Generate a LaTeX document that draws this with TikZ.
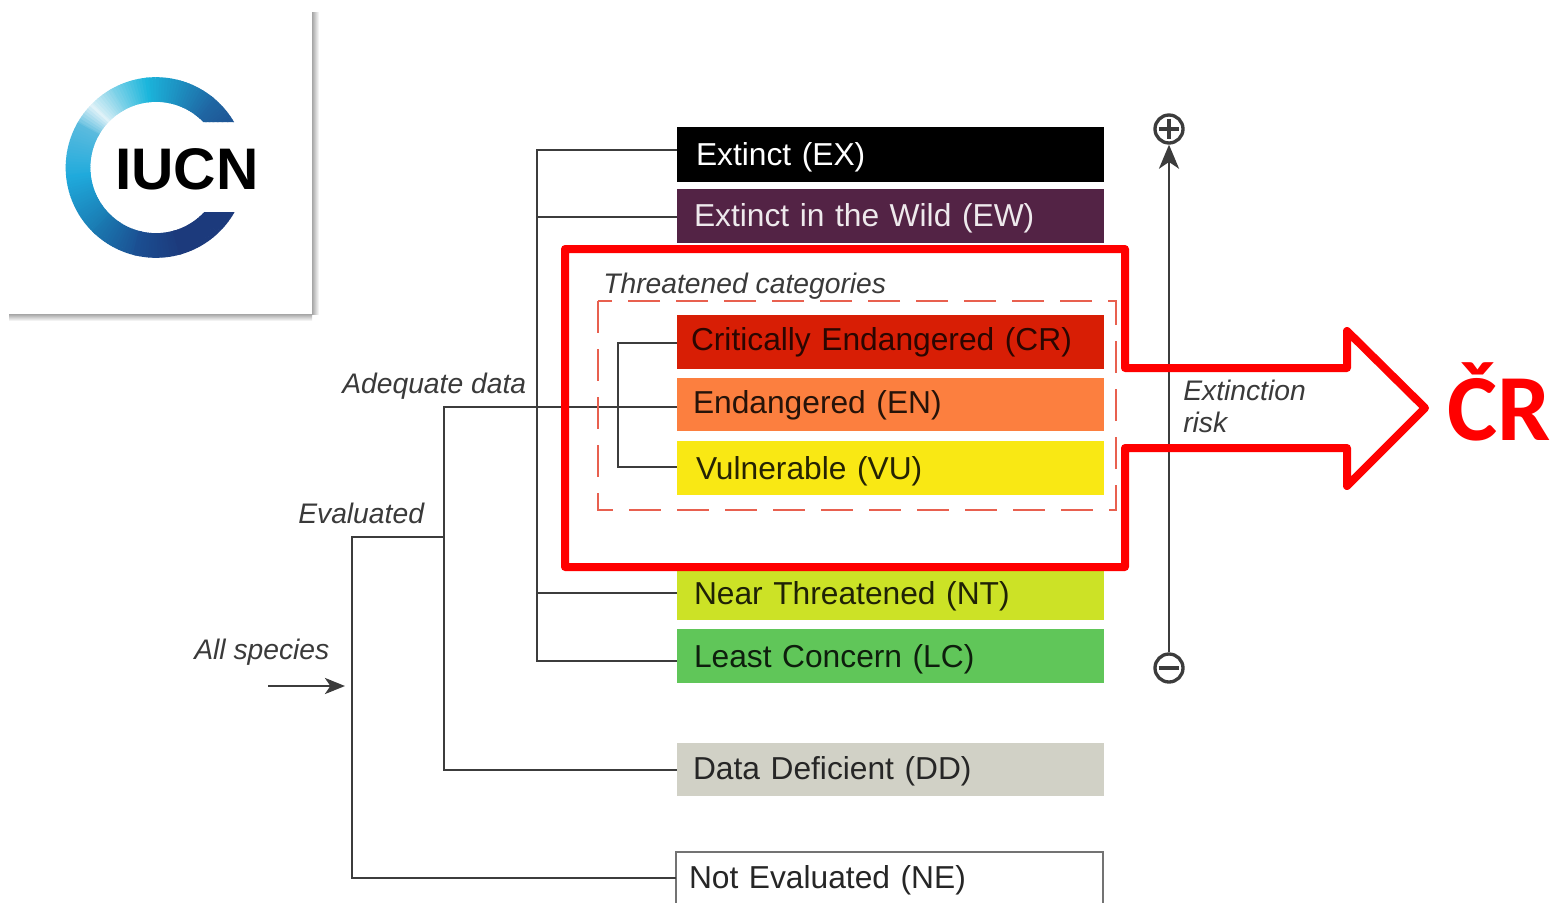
\documentclass[tikz,border=0pt]{standalone}
\usepackage{fontspec}
\setmainfont{Liberation Sans}
\newfontfamily\carlitofont{Carlito}
\usetikzlibrary{arrows.meta,calc}
\definecolor{cEX}{HTML}{000000}
\definecolor{cEW}{HTML}{532345}
\definecolor{cCR}{HTML}{D81E05}
\definecolor{cEN}{HTML}{FC7F3F}
\definecolor{cVU}{HTML}{F9E814}
\definecolor{cNT}{HTML}{CCE226}
\definecolor{cLC}{HTML}{60C659}
\definecolor{cDD}{HTML}{D1D1C6}
\definecolor{linegrey}{HTML}{3C3C3C}
\definecolor{itgrey}{HTML}{3A3A3A}
\definecolor{dashred}{HTML}{E8604F}
\definecolor{alarm}{HTML}{FF0000}
\definecolor{rA}{HTML}{1E4C8E}
\definecolor{rB}{HTML}{1F6AA6}
\definecolor{rC}{HTML}{1BB6DC}
\definecolor{rD}{HTML}{8DD6EA}
\definecolor{rE}{HTML}{DFF2F8}
\definecolor{rF}{HTML}{5ABBDE}
\definecolor{rG}{HTML}{1FAADC}
\definecolor{rH}{HTML}{1A78B0}
\definecolor{rI}{HTML}{1B4F92}
\definecolor{rJ}{HTML}{1C3A7C}
\newcommand{\catbox}[8]{%
  % name, top, height, fill, pad, text colour, extra, label
  \node[catnode,fill=#4,text=#6,minimum height=#3*0.75pt,inner xsep=#5*0.75pt,#7] (#1) at (677,#2) {#8};}
\tikzset{
  catnode/.style={anchor=north west,outer sep=0pt,inner ysep=0pt,text width=(427-2*#1)*0.75pt,text depth=5pt,font=\fontsize{23.8pt}{26pt}\selectfont,align=left},
  catnode/.default=9,
  wire/.style={draw=linegrey,line width=2.1pt},
  itlabel/.style={anchor=base west,inner sep=0pt,text=itgrey,font=\fontsize{21.2pt}{24pt}\selectfont\itshape},
  signnode/.style={circle,draw=linegrey,line width=2.5pt,minimum size=21pt,inner sep=0pt},
  signstroke/.style={draw=linegrey,line width=2.6pt},
  alarmline/.style={draw=alarm,line width=6pt,line join=round}
}
\begin{document}
\begin{tikzpicture}[x=0.75pt,y=-0.75pt]
\useasboundingbox (0,0) rectangle (1550,903);
% card shadow
\shade[left color=black!35,right color=white] (312,12) rectangle (319,314);
\shade[top color=black!35,bottom color=white] (9,314) rectangle (312,321);
% ring
\begin{scope}
\clip (60,70) -- (240,70) -- (240,122) -- (160,122) -- (160,212) -- (240,212) -- (240,265) -- (60,265) -- cycle;
\foreach \s/\e/\A/\B in {20/50/rA/rB,50/95/rB/rC,95/120/rC/rD,120/135/rD/rE,135/150/rE/rF,150/185/rF/rG,185/225/rG/rH,225/255/rH/rI,255/285/rI/rJ,285/340/rJ/rJ}{
  \pgfmathtruncatemacro\n{(\e-\s)/2}
  \foreach \i in {0,...,\n}{
    \pgfmathsetmacro\p{100*\i/(\n+1)}
    \pgfmathsetmacro\a{\s+2*\i}
    \pgfmathsetmacro\b{\a+2.6}
    \draw[line width=18.5pt,color={\B!\p!\A}] ({156+78*cos(\a)},{167.5-78*sin(\a)}) -- ({156+78*cos(\b)},{167.5-78*sin(\b)});
  }
}
\end{scope}
\node[anchor=base west,inner sep=0pt,font=\fontsize{44pt}{50pt}\selectfont\bfseries,text=black] (iucn) at (115,189.5) {IUCN};
% category boxes
\catbox{ex}{127}{55}{cEX}{19}{white}{catnode=19,text height=21.8pt}{Extinct (EX)}
\catbox{ew}{189}{54}{cEW}{17}{white!90!cEW}{catnode=17,text height=20.2pt}{Extinct in the Wild (EW)}
\catbox{cr}{315}{54}{cCR}{14}{black!80!cCR}{catnode=14,text height=17.2pt}{Critically Endangered (CR)}
\catbox{en}{378}{53}{cEN}{16}{black!85!cEN}{catnode=16,text height=18.8pt}{Endangered (EN)}
\catbox{vu}{441}{54}{cVU}{19}{black!85!cVU}{catnode=19,text height=21.8pt}{Vulnerable (VU)}
\catbox{nt}{566}{54}{cNT}{17}{black!85!cNT}{catnode=17,text height=21.8pt}{Near Threatened (NT)}
\catbox{lc}{629}{54}{cLC}{17}{black!85!cLC}{catnode=17,text height=21.8pt}{Least Concern (LC)}
\catbox{dd}{743}{53}{cDD}{16}{black!85}{catnode=16,text height=20.2pt}{Data Deficient (DD)}
\node[catnode=13,text height=18.8pt,draw=black!55,line width=1.4pt,fill=white,text=black!85,minimum height=40.5pt,inner xsep=9.75pt] (ne) at (676,852) {Not Evaluated (NE)};
% connectors
\coordinate (trunktop) at (537,150);
\coordinate (trunkbot) at (537,661);
\coordinate (ewjoin) at (537,217);
\coordinate (ntjoin) at (537,593);
\coordinate (brtop) at (618,343);
\coordinate (brbot) at (618,467);
\coordinate (adq) at (444,407);
\coordinate (adqbot) at (444,770);
\coordinate (evaljoin) at (444,537);
\coordinate (evaltop) at (352,537);
\coordinate (evalbot) at (352,878);
\coordinate (entry) at (268,686);
\coordinate (entrytip) at (345,686);
\draw[wire] (ex.west |- trunktop) -- (trunktop) -- (trunkbot) -- (lc.west |- trunkbot);
\draw[wire] (ewjoin) -- (ew.west |- ewjoin);
\draw[wire] (ntjoin) -- (nt.west |- ntjoin);
\draw[wire] (cr.west |- brtop) -- (brtop) -- (brbot) -- (vu.west |- brbot);
\draw[wire] (en.west |- adq) -- (adq) -- (adqbot) -- (dd.west |- adqbot);
\draw[wire] (evaljoin) -- (evaltop) -- (evalbot) -- (ne.west |- evalbot);
\draw[wire,-{Stealth[length=15pt,width=12pt,inset=4pt]}] (entry) -- (entrytip);
% risk axis
\node[signnode] (plus) at (1169,129) {};
\node[signnode] (minus) at (1169,668) {};
\draw[signstroke] ([xshift=4pt]plus.west) -- ([xshift=-4pt]plus.east);
\draw[signstroke] ([yshift=-4pt]plus.north) -- ([yshift=4pt]plus.south);
\draw[signstroke] ([xshift=4pt]minus.west) -- ([xshift=-4pt]minus.east);
\draw[wire,-{Stealth[length=18pt,width=15pt,inset=5pt]}] (minus.north) -- (plus.south);
% labels
\node[itlabel] (threat) at (603,293) {Threatened categories};
\node[itlabel] (adequate) at (342,393) {Adequate data};
\node[itlabel] (evaluated) at (298,523) {Evaluated};
\node[itlabel] (allsp) at (194,659) {All species};
\node[itlabel] (extinction) at (1183,400) {Extinction};
\node[itlabel] (risk) at (1183,432) {risk};
% dashed threatened frame
\draw[draw=dashred,line width=2.1pt,dash pattern=on 24pt off 12pt] (598,301) rectangle (1116,510);
% red highlight arrow
\draw[alarmline] (565,249) -- (1125,249) -- (1125,368) -- (1347,368) -- (1347,331) -- (1425,408) -- (1347,486) -- (1347,448) -- (1125,448) -- (1125,567) -- (565,567) -- cycle;
\node[anchor=base west,inner sep=0pt,font=\carlitofont\bfseries\fontsize{71pt}{76pt}\selectfont,text=alarm] (cz) at (1447,440) {ČR};
\end{tikzpicture}
\end{document}
